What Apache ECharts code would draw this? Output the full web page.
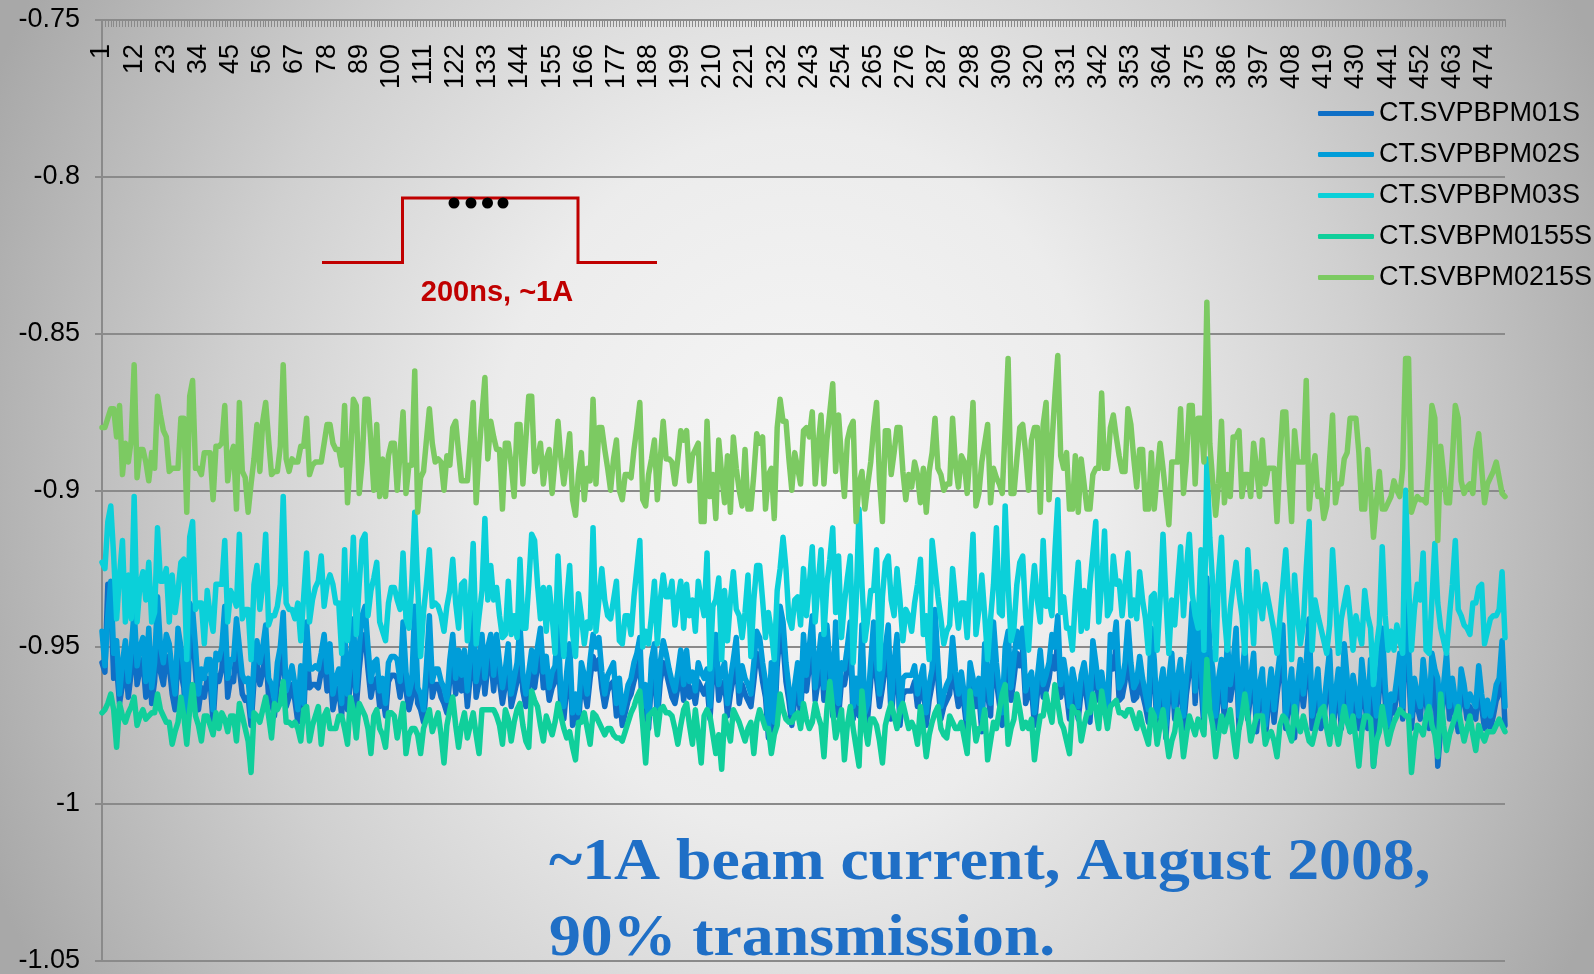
<!DOCTYPE html>
<html>
<head>
<meta charset="utf-8">
<script src="https://cdn.jsdelivr.net/npm/echarts/dist/echarts.min.js"></script>
<style>
  html, body { margin: 0; padding: 0; width: 1594px; height: 974px; overflow: hidden; }
  #chart {
    width: 1594px; height: 974px;
    background: radial-gradient(ellipse 880px 1000px at 800px 480px, #f6f6f6 0%, #ececec 35%, #d0d0d0 65%, #a8a8a8 100%);
  }
</style>
</head>
<body>
<div id="chart"></div>
<script>
// Pulse-to-pulse BPM readings, one value per pulse
const seriesNames = ['CT.SVPBPM01S', 'CT.SVPBPM02S', 'CT.SVPBPM03S', 'CT.SVBPM0155S', 'CT.SVBPM0215S'];

const bpm01 = [
-0.955,-0.958,-0.930,-0.935,-0.960,-0.956,-0.968,-0.962,-0.955,-0.966,
-0.958,-0.946,-0.962,-0.957,-0.954,-0.966,-0.952,-0.968,-0.961,-0.944,
-0.958,-0.962,-0.953,-0.956,-0.965,-0.970,-0.952,-0.958,-0.963,-0.978,
-0.945,-0.946,-0.958,-0.970,-0.963,-0.966,-0.960,-0.961,-0.974,-0.959,
-0.961,-0.957,-0.945,-0.966,-0.960,-0.961,-0.950,-0.957,-0.965,-0.967,
-0.966,-0.975,-0.961,-0.955,-0.962,-0.958,-0.951,-0.966,-0.968,-0.972,
-0.962,-0.957,-0.948,-0.969,-0.966,-0.962,-0.967,-0.974,-0.962,-0.972,
-0.950,-0.963,-0.962,-0.962,-0.963,-0.958,-0.953,-0.964,-0.956,-0.970,
-0.965,-0.963,-0.972,-0.952,-0.970,-0.961,-0.949,-0.969,-0.957,-0.948,
-0.946,-0.957,-0.966,-0.961,-0.960,-0.969,-0.965,-0.972,-0.961,-0.959,
-0.959,-0.960,-0.966,-0.950,-0.964,-0.970,-0.966,-0.946,-0.968,-0.970,
-0.974,-0.962,-0.948,-0.966,-0.962,-0.962,-0.966,-0.968,-0.971,-0.960,
-0.953,-0.965,-0.957,-0.964,-0.957,-0.969,-0.959,-0.947,-0.966,-0.961,
-0.953,-0.965,-0.956,-0.953,-0.964,-0.953,-0.961,-0.968,-0.962,-0.956,
-0.969,-0.965,-0.961,-0.951,-0.964,-0.969,-0.963,-0.957,-0.963,-0.956,
-0.951,-0.963,-0.959,-0.967,-0.963,-0.961,-0.950,-0.969,-0.973,-0.963,
-0.956,-0.975,-0.969,-0.975,-0.961,-0.964,-0.969,-0.960,-0.953,-0.957,
-0.954,-0.963,-0.969,-0.964,-0.962,-0.961,-0.972,-0.965,-0.975,-0.971,
-0.967,-0.965,-0.961,-0.958,-0.954,-0.973,-0.967,-0.976,-0.960,-0.956,
-0.973,-0.961,-0.955,-0.958,-0.962,-0.966,-0.968,-0.963,-0.957,-0.967,
-0.957,-0.966,-0.963,-0.968,-0.961,-0.963,-0.965,-0.962,-0.973,-0.958,
-0.953,-0.967,-0.963,-0.961,-0.972,-0.965,-0.960,-0.954,-0.968,-0.962,
-0.965,-0.967,-0.969,-0.961,-0.952,-0.954,-0.961,-0.966,-0.979,-0.961,
-0.977,-0.956,-0.945,-0.949,-0.961,-0.967,-0.975,-0.967,-0.961,-0.972,
-0.953,-0.964,-0.956,-0.948,-0.967,-0.961,-0.953,-0.967,-0.950,-0.961,
-0.972,-0.949,-0.972,-0.961,-0.962,-0.956,-0.949,-0.973,-0.965,-0.972,
-0.950,-0.975,-0.972,-0.961,-0.949,-0.960,-0.969,-0.963,-0.956,-0.950,
-0.973,-0.961,-0.953,-0.975,-0.965,-0.964,-0.964,-0.964,-0.961,-0.969,
-0.965,-0.961,-0.975,-0.967,-0.962,-0.946,-0.961,-0.973,-0.969,-0.967,
-0.965,-0.954,-0.963,-0.969,-0.963,-0.969,-0.977,-0.961,-0.965,-0.969,
-0.965,-0.977,-0.955,-0.965,-0.972,-0.950,-0.961,-0.968,-0.975,-0.957,
-0.952,-0.967,-0.960,-0.952,-0.956,-0.951,-0.968,-0.965,-0.963,-0.975,
-0.965,-0.957,-0.966,-0.964,-0.960,-0.953,-0.957,-0.948,-0.966,-0.960,
-0.965,-0.973,-0.962,-0.967,-0.973,-0.964,-0.961,-0.967,-0.974,-0.955,
-0.961,-0.967,-0.963,-0.969,-0.974,-0.953,-0.957,-0.950,-0.967,-0.966,
-0.961,-0.950,-0.961,-0.967,-0.966,-0.959,-0.965,-0.969,-0.974,-0.952,
-0.960,-0.976,-0.967,-0.962,-0.979,-0.965,-0.958,-0.973,-0.965,-0.960,
-0.976,-0.965,-0.958,-0.945,-0.968,-0.949,-0.961,-0.976,-0.940,-0.957,
-0.962,-0.976,-0.965,-0.960,-0.973,-0.955,-0.967,-0.961,-0.952,-0.976,
-0.965,-0.956,-0.973,-0.965,-0.958,-0.977,-0.966,-0.962,-0.979,-0.969,
-0.962,-0.974,-0.965,-0.958,-0.951,-0.976,-0.969,-0.962,-0.979,-0.966,
-0.960,-0.969,-0.960,-0.950,-0.976,-0.969,-0.962,-0.976,-0.973,-0.965,
-0.958,-0.977,-0.969,-0.962,-0.976,-0.956,-0.965,-0.977,-0.964,-0.969,
-0.976,-0.960,-0.967,-0.976,-0.960,-0.988,-0.976,-0.964,-0.952,-0.967,
-0.979,-0.969,-0.971,-0.965,-0.958,-0.973,-0.940,-0.956,-0.976,-0.965,
-0.969,-0.973,-0.960,-0.967,-0.976,-0.958,-0.962,-0.988,-0.976,-0.966,
-0.958,-0.973,-0.965,-0.971,-0.977,-0.962,-0.966,-0.973,-0.969,-0.971,
-0.973,-0.961,-0.969,-0.976,-0.971,-0.976,-0.972,-0.967,-0.965,-0.955,
-0.975
];

const bpm02 = [
-0.945,-0.956,-0.940,-0.929,-0.952,-0.948,-0.965,-0.955,-0.948,-0.961,
-0.951,-0.938,-0.956,-0.950,-0.947,-0.961,-0.944,-0.963,-0.955,-0.934,
-0.950,-0.955,-0.946,-0.949,-0.958,-0.965,-0.944,-0.950,-0.957,-0.975,
-0.936,-0.938,-0.950,-0.965,-0.957,-0.960,-0.954,-0.954,-0.970,-0.952,
-0.954,-0.950,-0.937,-0.960,-0.954,-0.954,-0.941,-0.950,-0.959,-0.961,
-0.960,-0.972,-0.955,-0.948,-0.955,-0.950,-0.943,-0.960,-0.962,-0.967,
-0.955,-0.950,-0.939,-0.964,-0.960,-0.956,-0.962,-0.970,-0.956,-0.968,
-0.942,-0.957,-0.957,-0.956,-0.957,-0.952,-0.946,-0.958,-0.949,-0.965,
-0.960,-0.957,-0.968,-0.944,-0.965,-0.955,-0.941,-0.964,-0.950,-0.940,
-0.937,-0.950,-0.961,-0.955,-0.954,-0.964,-0.960,-0.968,-0.955,-0.953,
-0.953,-0.954,-0.961,-0.942,-0.958,-0.965,-0.961,-0.937,-0.963,-0.965,
-0.970,-0.956,-0.940,-0.961,-0.957,-0.957,-0.961,-0.963,-0.967,-0.954,
-0.946,-0.960,-0.951,-0.959,-0.951,-0.964,-0.953,-0.939,-0.961,-0.955,
-0.946,-0.960,-0.950,-0.946,-0.959,-0.946,-0.955,-0.963,-0.957,-0.949,
-0.965,-0.960,-0.955,-0.943,-0.959,-0.965,-0.958,-0.951,-0.958,-0.950,
-0.944,-0.958,-0.953,-0.963,-0.958,-0.956,-0.942,-0.965,-0.969,-0.958,
-0.949,-0.971,-0.965,-0.971,-0.955,-0.959,-0.965,-0.954,-0.946,-0.950,
-0.947,-0.958,-0.965,-0.959,-0.957,-0.955,-0.968,-0.960,-0.971,-0.967,
-0.962,-0.960,-0.955,-0.952,-0.947,-0.969,-0.962,-0.973,-0.954,-0.949,
-0.969,-0.955,-0.948,-0.952,-0.957,-0.961,-0.964,-0.958,-0.951,-0.962,
-0.951,-0.961,-0.958,-0.964,-0.955,-0.958,-0.960,-0.957,-0.969,-0.952,
-0.946,-0.962,-0.958,-0.955,-0.968,-0.960,-0.954,-0.947,-0.964,-0.956,
-0.960,-0.962,-0.965,-0.955,-0.945,-0.947,-0.955,-0.961,-0.976,-0.955,
-0.974,-0.950,-0.937,-0.942,-0.955,-0.963,-0.971,-0.962,-0.955,-0.968,
-0.946,-0.959,-0.950,-0.940,-0.963,-0.955,-0.946,-0.963,-0.943,-0.955,
-0.968,-0.942,-0.968,-0.955,-0.957,-0.950,-0.942,-0.969,-0.960,-0.968,
-0.943,-0.971,-0.968,-0.955,-0.942,-0.955,-0.965,-0.958,-0.950,-0.943,
-0.969,-0.955,-0.946,-0.971,-0.960,-0.959,-0.959,-0.959,-0.956,-0.965,
-0.960,-0.956,-0.971,-0.962,-0.957,-0.938,-0.955,-0.969,-0.965,-0.962,
-0.960,-0.947,-0.958,-0.965,-0.958,-0.965,-0.973,-0.955,-0.960,-0.965,
-0.960,-0.973,-0.949,-0.960,-0.968,-0.942,-0.955,-0.964,-0.971,-0.950,
-0.945,-0.963,-0.954,-0.945,-0.950,-0.944,-0.964,-0.960,-0.958,-0.971,
-0.960,-0.951,-0.962,-0.959,-0.955,-0.946,-0.950,-0.940,-0.962,-0.954,
-0.960,-0.969,-0.957,-0.962,-0.969,-0.959,-0.955,-0.962,-0.970,-0.948,
-0.955,-0.963,-0.958,-0.965,-0.970,-0.946,-0.950,-0.942,-0.963,-0.961,
-0.955,-0.942,-0.955,-0.963,-0.961,-0.953,-0.960,-0.965,-0.970,-0.944,
-0.954,-0.972,-0.963,-0.957,-0.975,-0.960,-0.952,-0.969,-0.960,-0.954,
-0.972,-0.960,-0.952,-0.936,-0.964,-0.941,-0.955,-0.972,-0.928,-0.950,
-0.957,-0.972,-0.960,-0.954,-0.969,-0.948,-0.962,-0.955,-0.944,-0.972,
-0.960,-0.949,-0.969,-0.960,-0.952,-0.973,-0.962,-0.957,-0.975,-0.965,
-0.957,-0.970,-0.960,-0.952,-0.943,-0.972,-0.965,-0.957,-0.975,-0.962,
-0.954,-0.965,-0.955,-0.941,-0.972,-0.965,-0.957,-0.972,-0.969,-0.960,
-0.951,-0.973,-0.965,-0.957,-0.972,-0.949,-0.960,-0.973,-0.959,-0.965,
-0.972,-0.954,-0.963,-0.972,-0.954,-0.963,-0.972,-0.959,-0.944,-0.962,
-0.975,-0.965,-0.967,-0.960,-0.952,-0.969,-0.928,-0.950,-0.972,-0.960,
-0.965,-0.969,-0.954,-0.963,-0.972,-0.952,-0.957,-0.960,-0.973,-0.962,
-0.952,-0.969,-0.960,-0.967,-0.973,-0.957,-0.962,-0.969,-0.965,-0.967,
-0.969,-0.956,-0.965,-0.972,-0.967,-0.972,-0.968,-0.962,-0.960,-0.948,
-0.969
];

const bpm03 = [
-0.923,-0.925,-0.910,-0.905,-0.921,-0.941,-0.927,-0.916,-0.942,-0.927,
-0.941,-0.902,-0.942,-0.930,-0.926,-0.935,-0.923,-0.942,-0.939,-0.912,
-0.929,-0.929,-0.925,-0.942,-0.927,-0.939,-0.932,-0.923,-0.922,-0.954,
-0.915,-0.910,-0.938,-0.936,-0.936,-0.949,-0.932,-0.940,-0.945,-0.930,
-0.930,-0.930,-0.916,-0.942,-0.932,-0.934,-0.937,-0.914,-0.941,-0.938,
-0.938,-0.954,-0.930,-0.924,-0.938,-0.930,-0.914,-0.943,-0.940,-0.940,
-0.937,-0.930,-0.902,-0.936,-0.938,-0.938,-0.941,-0.936,-0.948,-0.934,
-0.920,-0.942,-0.935,-0.931,-0.929,-0.921,-0.937,-0.930,-0.927,-0.930,
-0.936,-0.936,-0.952,-0.919,-0.948,-0.935,-0.915,-0.946,-0.930,-0.916,
-0.914,-0.940,-0.932,-0.928,-0.923,-0.942,-0.945,-0.948,-0.936,-0.931,
-0.931,-0.935,-0.938,-0.920,-0.941,-0.944,-0.930,-0.907,-0.930,-0.953,
-0.939,-0.930,-0.919,-0.937,-0.936,-0.937,-0.940,-0.945,-0.937,-0.932,
-0.922,-0.936,-0.944,-0.930,-0.929,-0.948,-0.935,-0.917,-0.949,-0.940,
-0.932,-0.909,-0.935,-0.924,-0.935,-0.931,-0.940,-0.947,-0.946,-0.929,
-0.946,-0.940,-0.947,-0.922,-0.944,-0.944,-0.930,-0.914,-0.916,-0.930,
-0.941,-0.931,-0.945,-0.931,-0.940,-0.952,-0.921,-0.940,-0.953,-0.935,
-0.924,-0.946,-0.953,-0.933,-0.940,-0.949,-0.942,-0.944,-0.912,-0.945,
-0.935,-0.925,-0.935,-0.940,-0.941,-0.935,-0.929,-0.948,-0.949,-0.940,
-0.940,-0.946,-0.934,-0.925,-0.916,-0.950,-0.945,-0.949,-0.940,-0.929,
-0.949,-0.935,-0.927,-0.934,-0.934,-0.929,-0.943,-0.935,-0.929,-0.944,
-0.930,-0.940,-0.935,-0.945,-0.929,-0.935,-0.940,-0.920,-0.957,-0.937,
-0.935,-0.928,-0.954,-0.932,-0.948,-0.935,-0.926,-0.938,-0.940,-0.947,
-0.939,-0.927,-0.953,-0.935,-0.924,-0.924,-0.935,-0.947,-0.939,-0.945,
-0.954,-0.932,-0.925,-0.915,-0.925,-0.941,-0.944,-0.935,-0.934,-0.943,
-0.925,-0.940,-0.930,-0.918,-0.942,-0.930,-0.919,-0.946,-0.930,-0.922,
-0.912,-0.939,-0.921,-0.947,-0.936,-0.928,-0.921,-0.955,-0.936,-0.906,
-0.930,-0.948,-0.941,-0.932,-0.932,-0.919,-0.957,-0.934,-0.923,-0.921,
-0.935,-0.940,-0.925,-0.935,-0.948,-0.938,-0.940,-0.945,-0.936,-0.930,
-0.922,-0.946,-0.940,-0.954,-0.916,-0.925,-0.934,-0.941,-0.949,-0.945,
-0.943,-0.925,-0.935,-0.944,-0.936,-0.936,-0.947,-0.930,-0.914,-0.946,
-0.938,-0.927,-0.940,-0.954,-0.941,-0.930,-0.912,-0.939,-0.940,-0.905,
-0.930,-0.948,-0.944,-0.930,-0.923,-0.921,-0.940,-0.951,-0.935,-0.924,
-0.935,-0.942,-0.916,-0.937,-0.935,-0.940,-0.920,-0.903,-0.939,-0.934,
-0.944,-0.944,-0.951,-0.935,-0.923,-0.945,-0.932,-0.944,-0.930,-0.920,
-0.910,-0.942,-0.930,-0.913,-0.940,-0.938,-0.921,-0.930,-0.929,-0.940,
-0.930,-0.920,-0.940,-0.935,-0.941,-0.926,-0.935,-0.941,-0.952,-0.934,
-0.933,-0.951,-0.935,-0.914,-0.935,-0.952,-0.935,-0.943,-0.930,-0.918,
-0.940,-0.925,-0.914,-0.933,-0.940,-0.944,-0.919,-0.951,-0.890,-0.915,
-0.930,-0.954,-0.927,-0.915,-0.940,-0.951,-0.938,-0.930,-0.923,-0.933,
-0.940,-0.952,-0.919,-0.935,-0.949,-0.926,-0.935,-0.941,-0.930,-0.935,
-0.940,-0.945,-0.952,-0.941,-0.930,-0.919,-0.935,-0.954,-0.927,-0.940,
-0.949,-0.943,-0.925,-0.910,-0.951,-0.935,-0.940,-0.944,-0.948,-0.952,
-0.943,-0.919,-0.935,-0.952,-0.941,-0.936,-0.931,-0.940,-0.951,-0.940,
-0.945,-0.949,-0.932,-0.940,-0.944,-0.962,-0.950,-0.943,-0.918,-0.940,
-0.951,-0.945,-0.951,-0.943,-0.948,-0.952,-0.900,-0.930,-0.951,-0.938,
-0.930,-0.935,-0.920,-0.951,-0.952,-0.935,-0.917,-0.936,-0.944,-0.948,
-0.952,-0.940,-0.930,-0.916,-0.938,-0.940,-0.943,-0.944,-0.946,-0.936,
-0.936,-0.931,-0.930,-0.949,-0.945,-0.941,-0.940,-0.940,-0.938,-0.926,
-0.947
];

const bpm0155 = [
-0.971,-0.970,-0.968,-0.965,-0.970,-0.982,-0.968,-0.972,-0.974,-0.971,
-0.969,-0.966,-0.975,-0.972,-0.970,-0.973,-0.972,-0.971,-0.971,-0.965,
-0.970,-0.972,-0.974,-0.974,-0.981,-0.977,-0.974,-0.966,-0.972,-0.981,
-0.970,-0.962,-0.972,-0.975,-0.980,-0.972,-0.972,-0.975,-0.978,-0.971,
-0.976,-0.971,-0.973,-0.977,-0.972,-0.972,-0.980,-0.968,-0.972,-0.976,
-0.980,-0.990,-0.971,-0.972,-0.974,-0.970,-0.966,-0.972,-0.979,-0.968,
-0.970,-0.968,-0.961,-0.974,-0.974,-0.975,-0.974,-0.976,-0.980,-0.970,
-0.969,-0.980,-0.975,-0.972,-0.969,-0.981,-0.972,-0.970,-0.976,-0.976,
-0.976,-0.972,-0.972,-0.976,-0.981,-0.966,-0.970,-0.979,-0.968,-0.970,
-0.972,-0.976,-0.984,-0.972,-0.970,-0.976,-0.978,-0.982,-0.971,-0.971,
-0.972,-0.979,-0.974,-0.968,-0.984,-0.978,-0.976,-0.976,-0.978,-0.984,
-0.976,-0.973,-0.970,-0.977,-0.974,-0.971,-0.978,-0.987,-0.975,-0.970,
-0.966,-0.975,-0.982,-0.975,-0.971,-0.979,-0.975,-0.971,-0.978,-0.984,
-0.970,-0.970,-0.970,-0.970,-0.970,-0.972,-0.975,-0.981,-0.970,-0.973,
-0.980,-0.974,-0.970,-0.968,-0.975,-0.980,-0.982,-0.964,-0.967,-0.969,
-0.975,-0.980,-0.972,-0.975,-0.978,-0.974,-0.968,-0.972,-0.976,-0.979,
-0.977,-0.982,-0.986,-0.974,-0.974,-0.971,-0.976,-0.981,-0.971,-0.972,
-0.974,-0.976,-0.978,-0.976,-0.976,-0.978,-0.979,-0.979,-0.980,-0.977,
-0.974,-0.971,-0.969,-0.966,-0.964,-0.975,-0.987,-0.972,-0.971,-0.970,
-0.978,-0.970,-0.969,-0.971,-0.971,-0.972,-0.976,-0.981,-0.975,-0.970,
-0.968,-0.975,-0.981,-0.970,-0.978,-0.987,-0.972,-0.970,-0.972,-0.978,
-0.984,-0.978,-0.989,-0.972,-0.976,-0.980,-0.970,-0.972,-0.974,-0.977,
-0.980,-0.976,-0.974,-0.984,-0.974,-0.970,-0.973,-0.976,-0.976,-0.984,
-0.978,-0.975,-0.965,-0.970,-0.973,-0.974,-0.974,-0.972,-0.971,-0.976,
-0.968,-0.973,-0.976,-0.974,-0.968,-0.972,-0.975,-0.985,-0.970,-0.961,
-0.970,-0.979,-0.975,-0.970,-0.986,-0.975,-0.969,-0.976,-0.982,-0.988,
-0.964,-0.975,-0.981,-0.973,-0.973,-0.975,-0.980,-0.987,-0.975,-0.971,
-0.968,-0.972,-0.976,-0.970,-0.968,-0.972,-0.976,-0.974,-0.976,-0.981,
-0.969,-0.976,-0.985,-0.978,-0.974,-0.971,-0.969,-0.976,-0.978,-0.979,
-0.972,-0.974,-0.976,-0.976,-0.974,-0.979,-0.984,-0.964,-0.972,-0.980,
-0.976,-0.976,-0.970,-0.986,-0.980,-0.974,-0.976,-0.970,-0.965,-0.962,
-0.981,-0.976,-0.973,-0.965,-0.970,-0.976,-0.974,-0.976,-0.973,-0.986,
-0.978,-0.972,-0.972,-0.965,-0.970,-0.974,-0.962,-0.968,-0.974,-0.976,
-0.980,-0.984,-0.969,-0.971,-0.971,-0.980,-0.975,-0.971,-0.971,-0.965,
-0.970,-0.976,-0.964,-0.970,-0.976,-0.969,-0.968,-0.967,-0.971,-0.971,
-0.972,-0.970,-0.970,-0.973,-0.976,-0.971,-0.975,-0.978,-0.981,-0.970,
-0.972,-0.981,-0.975,-0.970,-0.978,-0.985,-0.980,-0.977,-0.970,-0.974,
-0.985,-0.978,-0.972,-0.975,-0.978,-0.973,-0.975,-0.978,-0.954,-0.970,
-0.975,-0.985,-0.978,-0.972,-0.977,-0.973,-0.970,-0.978,-0.985,-0.976,
-0.972,-0.965,-0.972,-0.980,-0.976,-0.972,-0.972,-0.972,-0.981,-0.978,
-0.977,-0.980,-0.985,-0.975,-0.972,-0.973,-0.977,-0.980,-0.969,-0.974,
-0.977,-0.972,-0.976,-0.980,-0.981,-0.977,-0.973,-0.970,-0.969,-0.976,
-0.981,-0.972,-0.976,-0.981,-0.975,-0.969,-0.974,-0.977,-0.972,-0.980,
-0.988,-0.977,-0.972,-0.972,-0.973,-0.988,-0.980,-0.977,-0.969,-0.975,
-0.981,-0.977,-0.974,-0.972,-0.970,-0.971,-0.972,-0.972,-0.990,-0.980,
-0.975,-0.976,-0.978,-0.972,-0.969,-0.975,-0.978,-0.985,-0.965,-0.975,
-0.983,-0.978,-0.975,-0.972,-0.969,-0.975,-0.980,-0.976,-0.972,-0.978,
-0.983,-0.975,-0.978,-0.980,-0.977,-0.977,-0.977,-0.975,-0.973,-0.975,
-0.977
];

const bpm0215 = [
-0.880,-0.880,-0.877,-0.874,-0.874,-0.883,-0.873,-0.895,-0.885,-0.891,
-0.884,-0.860,-0.896,-0.887,-0.887,-0.891,-0.897,-0.888,-0.893,-0.870,
-0.876,-0.881,-0.883,-0.894,-0.893,-0.893,-0.893,-0.877,-0.877,-0.907,
-0.870,-0.865,-0.893,-0.893,-0.895,-0.888,-0.888,-0.888,-0.903,-0.886,
-0.886,-0.885,-0.873,-0.897,-0.889,-0.886,-0.906,-0.872,-0.894,-0.896,
-0.907,-0.898,-0.890,-0.879,-0.894,-0.878,-0.872,-0.884,-0.895,-0.894,
-0.894,-0.886,-0.860,-0.890,-0.894,-0.890,-0.891,-0.891,-0.886,-0.886,
-0.877,-0.895,-0.892,-0.891,-0.891,-0.891,-0.885,-0.879,-0.879,-0.885,
-0.887,-0.887,-0.892,-0.873,-0.904,-0.889,-0.871,-0.873,-0.901,-0.891,
-0.871,-0.871,-0.885,-0.900,-0.879,-0.902,-0.890,-0.902,-0.889,-0.885,
-0.885,-0.900,-0.888,-0.875,-0.901,-0.892,-0.892,-0.862,-0.907,-0.896,
-0.894,-0.884,-0.874,-0.885,-0.891,-0.890,-0.891,-0.900,-0.889,-0.892,
-0.880,-0.878,-0.888,-0.897,-0.897,-0.897,-0.885,-0.872,-0.904,-0.888,
-0.876,-0.864,-0.890,-0.878,-0.883,-0.887,-0.887,-0.906,-0.885,-0.885,
-0.892,-0.902,-0.879,-0.879,-0.898,-0.884,-0.870,-0.870,-0.894,-0.890,
-0.885,-0.898,-0.890,-0.887,-0.901,-0.890,-0.878,-0.890,-0.898,-0.890,
-0.882,-0.903,-0.908,-0.895,-0.888,-0.903,-0.893,-0.897,-0.871,-0.898,
-0.880,-0.880,-0.887,-0.893,-0.900,-0.890,-0.884,-0.900,-0.903,-0.895,
-0.895,-0.896,-0.887,-0.880,-0.872,-0.903,-0.905,-0.895,-0.890,-0.884,
-0.903,-0.890,-0.878,-0.890,-0.890,-0.891,-0.898,-0.890,-0.881,-0.884,
-0.881,-0.897,-0.889,-0.887,-0.885,-0.910,-0.910,-0.878,-0.902,-0.895,
-0.909,-0.884,-0.895,-0.904,-0.889,-0.907,-0.883,-0.893,-0.900,-0.905,
-0.887,-0.906,-0.906,-0.895,-0.882,-0.885,-0.883,-0.906,-0.895,-0.893,
-0.909,-0.880,-0.871,-0.878,-0.878,-0.890,-0.900,-0.888,-0.893,-0.898,
-0.881,-0.880,-0.883,-0.875,-0.898,-0.886,-0.876,-0.898,-0.884,-0.875,
-0.866,-0.894,-0.876,-0.890,-0.902,-0.884,-0.880,-0.878,-0.910,-0.898,
-0.894,-0.906,-0.898,-0.891,-0.880,-0.872,-0.897,-0.910,-0.881,-0.881,
-0.895,-0.888,-0.880,-0.880,-0.894,-0.903,-0.895,-0.899,-0.891,-0.895,
-0.904,-0.893,-0.907,-0.894,-0.888,-0.877,-0.893,-0.895,-0.900,-0.898,
-0.898,-0.877,-0.892,-0.899,-0.889,-0.891,-0.901,-0.888,-0.872,-0.905,
-0.901,-0.891,-0.885,-0.879,-0.904,-0.893,-0.896,-0.898,-0.901,-0.880,
-0.858,-0.901,-0.901,-0.890,-0.880,-0.879,-0.888,-0.900,-0.884,-0.880,
-0.880,-0.907,-0.879,-0.872,-0.903,-0.885,-0.870,-0.857,-0.889,-0.893,
-0.888,-0.906,-0.906,-0.889,-0.907,-0.890,-0.898,-0.906,-0.906,-0.895,
-0.893,-0.893,-0.869,-0.893,-0.893,-0.880,-0.876,-0.883,-0.889,-0.894,
-0.894,-0.874,-0.879,-0.890,-0.899,-0.887,-0.887,-0.906,-0.906,-0.888,
-0.906,-0.895,-0.885,-0.893,-0.902,-0.911,-0.891,-0.891,-0.891,-0.874,
-0.901,-0.890,-0.873,-0.873,-0.898,-0.877,-0.877,-0.891,-0.840,-0.885,
-0.897,-0.908,-0.898,-0.878,-0.904,-0.895,-0.902,-0.883,-0.883,-0.881,
-0.902,-0.895,-0.895,-0.902,-0.885,-0.893,-0.902,-0.884,-0.898,-0.893,
-0.893,-0.893,-0.910,-0.890,-0.875,-0.875,-0.895,-0.910,-0.881,-0.891,
-0.891,-0.891,-0.865,-0.906,-0.895,-0.889,-0.902,-0.900,-0.909,-0.905,
-0.890,-0.876,-0.904,-0.898,-0.898,-0.890,-0.888,-0.877,-0.877,-0.877,
-0.888,-0.906,-0.906,-0.887,-0.900,-0.915,-0.904,-0.894,-0.906,-0.906,
-0.904,-0.902,-0.897,-0.900,-0.902,-0.893,-0.858,-0.858,-0.907,-0.904,
-0.902,-0.903,-0.903,-0.904,-0.890,-0.873,-0.877,-0.916,-0.886,-0.895,
-0.904,-0.904,-0.890,-0.873,-0.877,-0.897,-0.901,-0.899,-0.898,-0.901,
-0.887,-0.882,-0.893,-0.904,-0.898,-0.896,-0.894,-0.891,-0.896,-0.901,
-0.902
];

// Pulse numbers along the horizontal axis (1, 2, 3, ...)
const categories = bpm0215.map((_, i) => String(i + 1));

// Value axis range
const yMin = -1.05, yMax = -0.75, yStep = 0.05;

const seriesData = [bpm01, bpm02, bpm03, bpm0155, bpm0215];
const seriesColors = ['#0F6FC6', '#009DD9', '#0BD0D9', '#10CF9B', '#7CCA62'];

const SANS = '"Liberation Sans", Arial, Helvetica, sans-serif';
const SERIF = '"Liberation Serif", "Times New Roman", serif';
const AXIS_GRAY = '#8a8a8a';

const chart = echarts.init(document.getElementById('chart'), null, { renderer: 'canvas' });

const option = {
  animation: false,
  backgroundColor: 'transparent',
  textStyle: { fontFamily: SANS },
  grid: { left: 102, right: 89, top: 20, bottom: 11, containLabel: false },
  legend: {
    orient: 'vertical',
    left: 1313,
    top: 95,
    itemGap: 14,
    itemWidth: 56,
    itemHeight: 5,
    icon: 'roundRect',
    data: seriesNames,
    textStyle: { fontSize: 27, color: '#000', fontFamily: SANS }
  },
  xAxis: {
    type: 'category',
    position: 'top',
    boundaryGap: false,
    data: categories,
    axisLine: { show: true, lineStyle: { color: AXIS_GRAY, width: 2 } },
    axisTick: { show: true, inside: true, length: 7, interval: 0, lineStyle: { color: AXIS_GRAY, width: 1 } },
    axisLabel: { inside: true, rotate: -90, interval: 10, margin: 24, fontSize: 27, color: '#000', fontFamily: SANS },
    splitLine: { show: false }
  },
  yAxis: {
    type: 'value',
    min: yMin,
    max: yMax,
    interval: yStep,
    axisLine: { show: true, lineStyle: { color: AXIS_GRAY, width: 2 } },
    axisTick: { show: true, length: 7, lineStyle: { color: AXIS_GRAY, width: 2 } },
    axisLabel: {
      margin: 22, fontSize: 27, color: '#000', fontFamily: SANS,
      formatter: v => String(parseFloat(v.toFixed(2)))
    },
    splitLine: { show: true, lineStyle: { color: AXIS_GRAY, width: 2 } }
  },
  series: seriesNames.map((name, k) => ({
    name,
    type: 'line',
    data: seriesData[k],
    showSymbol: false,
    symbol: 'none',
    smooth: false,
    color: seriesColors[k],
    lineStyle: { width: 5.5, color: seriesColors[k], join: 'round', cap: 'round' },
    emphasis: { disabled: true }
  })),
  graphic: [
    // schematic of the 200 ns beam pulse
    {
      type: 'polyline',
      shape: { points: [[322, 262.5], [402.5, 262.5], [402.5, 198], [578, 198], [578, 262.5], [657, 262.5]] },
      style: { stroke: '#C00000', lineWidth: 3, fill: null },
      z: 10
    },
    { type: 'circle', shape: { cx: 454, cy: 203, r: 5.5 }, style: { fill: '#000' }, z: 11 },
    { type: 'circle', shape: { cx: 471, cy: 203, r: 5.5 }, style: { fill: '#000' }, z: 11 },
    { type: 'circle', shape: { cx: 487.5, cy: 203, r: 5.5 }, style: { fill: '#000' }, z: 11 },
    { type: 'circle', shape: { cx: 503, cy: 203, r: 5.5 }, style: { fill: '#000' }, z: 11 },
    {
      type: 'text', x: 497, y: 293, z: 11,
      style: {
        text: '200ns, ~1A', fill: '#C00000',
        font: 'bold 29px ' + SANS,
        align: 'center', verticalAlign: 'middle', textAlign: 'center', textVerticalAlign: 'middle'
      }
    },
    {
      type: 'text', x: 549, y: 864, scaleX: 1.08, z: 11,
      style: {
        text: '~1A beam current, August 2008,', fill: '#1F6FC6',
        font: 'bold 59px ' + SERIF,
        align: 'left', verticalAlign: 'middle', textAlign: 'left', textVerticalAlign: 'middle'
      }
    },
    {
      type: 'text', x: 549, y: 940, scaleX: 1.08, z: 11,
      style: {
        text: '90% transmission.', fill: '#1F6FC6',
        font: 'bold 59px ' + SERIF,
        align: 'left', verticalAlign: 'middle', textAlign: 'left', textVerticalAlign: 'middle'
      }
    }
  ]
};

chart.setOption(option);
</script>
</body>
</html>
